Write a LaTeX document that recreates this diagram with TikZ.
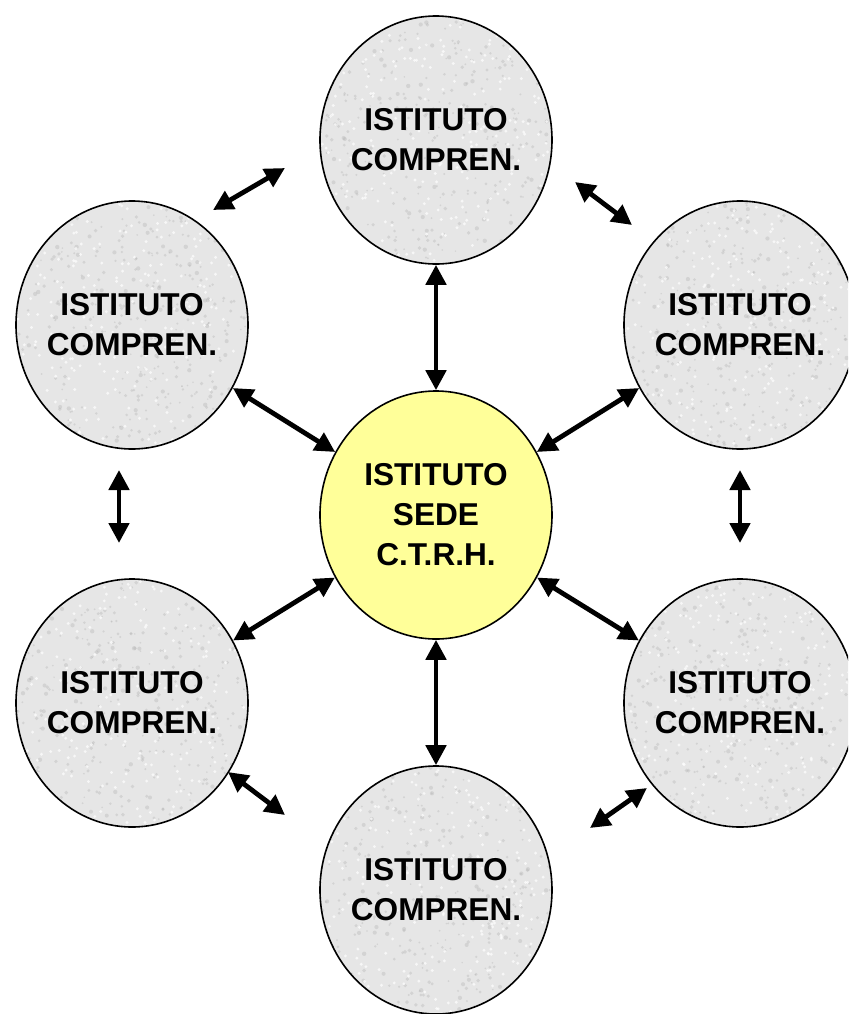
\documentclass[tikz,border=0pt]{standalone}
\usepackage{fontspec}
\setmainfont{Liberation Sans}
\usetikzlibrary{shapes.geometric,arrows.meta}
\definecolor{sedeyellow}{HTML}{FFFF99}
\definecolor{stone}{HTML}{E6E6E6}
\definecolor{stonedark}{HTML}{B0B0B0}
\tikzset{
  blob/.style={ellipse, draw=black, line width=0.8pt, inner xsep=-8pt, inner ysep=0pt,
    minimum width=116pt, minimum height=124pt, align=center,
    font=\fontsize{15.8}{20}\selectfont\bfseries},
  stoneblob/.style={blob, fill=stone,
    path picture={
      \foreach \k in {1,...,420}{
        \pgfmathsetmacro\rx{rand*60}
        \pgfmathsetmacro\ry{rand*64}
        \pgfmathsetmacro\rr{0.4+0.7*rnd}
        \fill[stonedark,opacity=0.35] ([shift={(\rx pt,\ry pt)}]path picture bounding box.center) circle (\rr pt);
      }
      \foreach \k in {1,...,260}{
        \pgfmathsetmacro\rx{rand*60}
        \pgfmathsetmacro\ry{rand*64}
        \fill[white,opacity=0.7] ([shift={(\rx pt,\ry pt)}]path picture bounding box.center) circle (0.8pt);
      }
    }},
  sedeblob/.style={blob, fill=sedeyellow},
  link/.style={line width=2.4pt, {Triangle[length=10pt,width=10pt]}-{Triangle[length=10pt,width=10pt]}}
}
\begin{document}
\pgfmathsetseed{4242}
\begin{tikzpicture}[x=0.5pt,y=-0.5pt]
\useasboundingbox (0,0) rectangle (848,1014);
\clip (0,0) rectangle (848,1014);
\node[stoneblob] (top) at (436,140) {ISTITUTO\\COMPREN.};
\node[stoneblob] (ul) at (132,325) {ISTITUTO\\COMPREN.};
\node[stoneblob] (ur) at (740,325) {ISTITUTO\\COMPREN.};
\node[sedeblob] (sede) at (436,515) {ISTITUTO\\SEDE\\C.T.R.H.};
\node[stoneblob] (ll) at (132,703) {ISTITUTO\\COMPREN.};
\node[stoneblob] (lr) at (740,703) {ISTITUTO\\COMPREN.};
\node[stoneblob] (bot) at (436,890) {ISTITUTO\\COMPREN.};
% free-floating connector ends
\coordinate (a1) at (213,210); \coordinate (a2) at (285,168);
\coordinate (b1) at (575,182); \coordinate (b2) at (632,225);
\coordinate (c1) at (119,470); \coordinate (c2) at (119,543);
\coordinate (d1) at (740,470); \coordinate (d2) at (740,543);
\coordinate (e1) at (228,772); \coordinate (e2) at (285,815);
\coordinate (f1) at (590,828); \coordinate (f2) at (647,788);
\draw[link] (a1) -- (a2);
\draw[link] (b1) -- (b2);
\draw[link] (c1) -- (c2);
\draw[link] (d1) -- (d2);
\draw[link] (e1) -- (e2);
\draw[link] (f1) -- (f2);
% connectors to the centre
\draw[link] (top) -- (sede);
\draw[link] (ul) -- (sede);
\draw[link] (ur) -- (sede);
\draw[link] (ll) -- (sede);
\draw[link] (lr) -- (sede);
\draw[link] (bot) -- (sede);
\end{tikzpicture}
\end{document}
